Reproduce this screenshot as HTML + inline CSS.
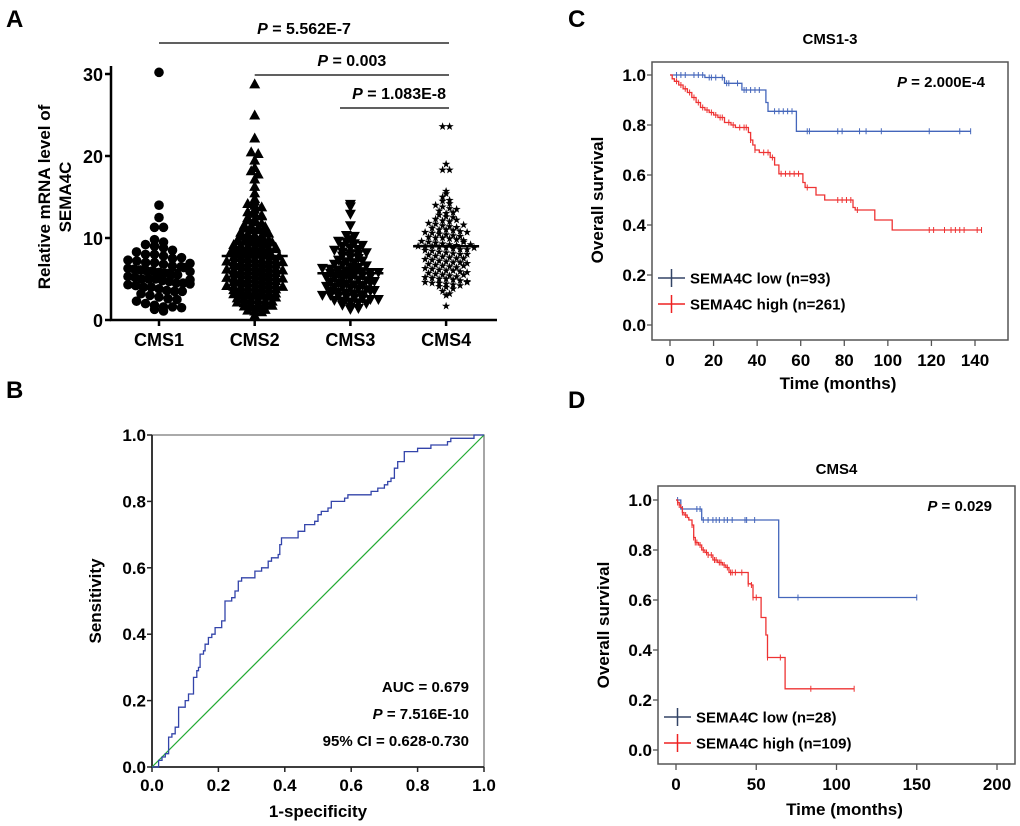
<!DOCTYPE html>
<html><head><meta charset="utf-8"><style>
html,body{margin:0;padding:0;background:#fff;}
svg{display:block;font-family:"Liberation Sans",Arial,sans-serif;font-weight:bold;}
</style></head><body>
<svg id="fig" width="1020" height="826" viewBox="0 0 1020 826" xmlns="http://www.w3.org/2000/svg">
<g font-size="24">
<text x="6" y="27">A</text>
<text x="6" y="398">B</text>
<text x="568" y="27">C</text>
<text x="568" y="408">D</text>
</g>
<g id="pa"></g>
<g id="pb"></g>
<g id="pc"></g>
<g id="pd"></g>
</svg>
<script>
// ---------- Panel A data ----------
const catsA = ["CMS1","CMS2","CMS3","CMS4"];
const mediansA = [6.1,7.8,5.7,9.0];
const cms1 = [30.2,14,12.5,11.3,11.3,9.8,9.5,9.2,9,8.8,8.5,8.3,8,8,7.8,7.5,7.3,7.2,7,7,6.8,6.6,6.5,6.3,6.2,6.1,6,6,5.8,5.7,5.5,5.5,5.3,5.2,5,5,5,4.8,4.7,4.5,4.5,4.3,4.2,4,4,3.8,3.6,3.5,3.5,3.2,3,2.8,2.6,2.5,2.3,2,1.8,1.6,1.6,1.5,1.3,1.1,6.4,6.9,7.6,5.9,4.9,4.4];
const cms2 = [28.8,25,22.2,20.5,20.3,19.5,18.6,18.2,17.8,17.2,16.3,15.5,14.8,14.5,14.2,14,13.8,13.5,13.2,13,12.8,12.5,12.3,12.2,12,11.8,11.6,11.5,11.3,11.2,11,11,10.8,10.7,10.5,10.4,10.3,10.2,10,10,9.9,9.8,9.7,9.6,9.5,9.4,9.3,9.2,9.1,9,9,8.9,8.8,8.7,8.6,8.5,8.5,8.4,8.3,8.2,8.1,8,8,8,7.9,7.8,7.8,7.7,7.6,7.5,7.5,7.4,7.3,7.2,7.1,7,7,7,6.9,6.8,6.8,6.7,6.6,6.5,6.5,6.4,6.3,6.2,6.1,6,6,6,5.9,5.8,5.8,5.7,5.6,5.5,5.5,5.4,5.3,5.2,5.1,5,5,5,4.9,4.8,4.8,4.7,4.6,4.5,4.5,4.4,4.3,4.2,4.1,4,4,4,3.9,3.8,3.8,3.7,3.6,3.5,3.5,3.4,3.3,3.2,3.1,3,3,3,2.9,2.8,2.7,2.6,2.5,2.5,2.4,2.3,2.2,2.1,2,2,1.9,1.8,1.7,1.6,1.5,1.3,1.2,1.1,1,0.6,9.5,8.7,7.3,6.3,5.3,4.3,3.3,10.6,11.4,12.7,8.9,7.1,6.1,5.1,4.1];
const cms3 = [14.1,13.8,12.9,11.5,10.3,10.2,9.8,9.6,9.5,9.3,9,8.8,8.6,8.5,8.3,8.1,8,7.8,7.6,7.5,7.3,7.1,7,6.8,6.7,6.5,6.4,6.3,6.2,6.1,6,6,5.9,5.8,5.7,5.6,5.5,5.5,5.4,5.3,5.2,5.1,5,5,4.9,4.8,4.7,4.6,4.5,4.4,4.3,4.2,4.1,4,4,3.9,3.8,3.7,3.6,3.5,3.4,3.3,3.2,3.1,3,3,2.9,2.8,2.7,2.6,2.5,2.4,2.3,2.2,2.1,2,1.8,1.6,1.4,1.3,6.6,5.8,4.5,3.5,2.5,7.2,8.2,9.1];
const cms4 = [23.6,23.6,19,18.3,18.3,15.7,15.4,15,14.6,14.5,14.2,14,13.8,13.6,13.5,13.3,13,12.8,12.6,12.5,12.3,12.1,12,11.8,11.7,11.5,11.4,11.3,11.2,11,11,10.9,10.8,10.7,10.6,10.5,10.4,10.3,10.2,10.1,10,10,9.9,9.8,9.7,9.6,9.5,9.4,9.3,9.2,9.1,9,9,9,8.9,8.8,8.7,8.6,8.5,8.4,8.3,8.2,8.1,8,8,7.9,7.8,7.7,7.6,7.5,7.4,7.3,7.2,7.1,7,7,6.9,6.8,6.7,6.6,6.5,6.4,6.3,6.2,6.1,6,6,5.9,5.8,5.7,5.6,5.5,5.4,5.3,5.2,5.1,5,5,4.9,4.8,4.7,4.6,4.5,4.5,4.4,4.3,4.2,4.1,4,3.8,3.5,3.2,3,1.7,12.2,11.6,10.7,9.5,8.6,7.5,6.6,5.5,4.6,13.1,9.2,8.8];
const groupsA = [cms1,cms2,cms3,cms4];
const yTicksA = [0,10,20,30];
const sigLabels = ["5.562E-7","0.003","1.083E-8"];
const sigPairs = [[0,3],[1,3],[2,3]];

// ---------- Panel B data ----------
const rocFpr = [0,0.02,0.03,0.04,0.05,0.06,0.07,0.08,0.1,0.11,0.12,0.125,0.135,0.14,0.145,0.155,0.16,0.17,0.18,0.19,0.21,0.22,0.24,0.25,0.26,0.27,0.3,0.31,0.33,0.35,0.36,0.38,0.385,0.39,0.42,0.44,0.46,0.49,0.5,0.51,0.53,0.54,0.55,0.58,0.59,0.61,0.66,0.68,0.7,0.71,0.72,0.73,0.74,0.76,0.8,0.83,0.84,0.88,0.89,0.9,0.97,1];
const rocTpr = [0,0.02,0.03,0.04,0.09,0.1,0.12,0.18,0.2,0.22,0.22,0.27,0.29,0.3,0.34,0.35,0.37,0.39,0.4,0.42,0.44,0.5,0.51,0.53,0.56,0.57,0.57,0.59,0.6,0.62,0.63,0.64,0.67,0.69,0.69,0.71,0.73,0.74,0.76,0.77,0.78,0.8,0.8,0.81,0.82,0.82,0.83,0.84,0.85,0.86,0.87,0.9,0.92,0.95,0.96,0.96,0.97,0.97,0.98,0.99,1,1];
const rocTicks = [0,0.2,0.4,0.6,0.8,1.0];

// ---------- Panel C data ----------
const cLowT = [0,16,25,33,44,45,58,138];
const cLowS = [1.0,0.99,0.967,0.94,0.89,0.855,0.775,0.775];
const cLowCens = [3,5,7,11,13,15,18,19,21,24,26,27,31,34,35,37,39,41,48,50,52,54,56,63,64,77,79,87,90,97,119,133,138];
const cHighT = [0,1,2,4,6,8,10,12,14,16,18,20,22,25,28,30,36,37,38,39,41,46,48,50,61,62,67,71,84,85,94,102,143];
const cHighS = [1.0,0.985,0.975,0.96,0.945,0.93,0.91,0.89,0.87,0.86,0.85,0.84,0.83,0.81,0.8,0.79,0.77,0.74,0.72,0.70,0.69,0.67,0.64,0.605,0.57,0.55,0.52,0.50,0.47,0.46,0.42,0.38,0.38];
const cHighCens = [3,5,7,9,11,13,15,17,19,21,23,24,27,29,32,34,35,37,39,43,45,47,51,53,55,57,59,63,77,79,81,83,86,119,121,126,129,131,133,135,141,143];
const cXTicks = [0,20,40,60,80,100,120,140];
const survTicks = [0,0.2,0.4,0.6,0.8,1.0];

// ---------- Panel D data ----------
const dLowT = [0,3,16,64,150];
const dLowS = [1.0,0.964,0.92,0.61,0.61];
const dLowCens = [1,4,13,15,17,20,23,25,27,30,32,35,43,44,49,76,150];
const dHighT = [0,1,2,3,4,5,7,8,10,11,12,14,16,18,20,23,26,29,31,33,45,47,48,53,56,57,68,111];
const dHighS = [1.0,0.99,0.98,0.97,0.95,0.94,0.93,0.92,0.9,0.85,0.83,0.82,0.8,0.79,0.78,0.76,0.75,0.74,0.73,0.71,0.665,0.66,0.61,0.53,0.46,0.37,0.245,0.245];
const dHighCens = [1,2,4,6,10,11,12,13,15,17,19,20,22,24,25,27,28,30,32,34,35,37,41,45,47,48,50,57,65,84,111];
const dXTicks = [0,50,100,150,200];

const NS="http://www.w3.org/2000/svg";
function el(parent,tag,attrs,text){const e=document.createElementNS(NS,tag);for(const k in attrs)e.setAttribute(k,attrs[k]);if(text!==undefined)e.textContent=text;parent.appendChild(e);return e;}

// ---------- Panel A ----------
(function(){
const g=document.getElementById('pa');
const x0=111,x1=497,y0=320,yTop=66;
const yS=v=>y0-(v/30)*(320-74);
const xC=i=>159+i*95.7;
const ax=el(g,'path',{d:`M${x0},${yTop}V${y0}H${x1}`,stroke:'#000','stroke-width':2.5,fill:'none'});

yTicksA.forEach(t=>{
 const tk=el(g,'line',{x1:x0-6,x2:x0,y1:yS(t),y2:yS(t),stroke:'#000','stroke-width':2.5});
 
 const lb=el(g,'text',{x:x0-8,y:yS(t)+7,'text-anchor':'end','font-size':18},String(t));
 
});
catsA.forEach((c,i)=>{
 const tk=el(g,'line',{x1:xC(i),x2:xC(i),y1:y0,y2:y0+6,stroke:'#000','stroke-width':2.5});
 
 const lb=el(g,'text',{x:xC(i),y:346,'text-anchor':'middle','font-size':18},c);
 
});
const yl=el(g,'text',{transform:'translate(50,197) rotate(-90)','text-anchor':'middle','font-size':17},'Relative mRNA level of');

const yl2=el(g,'text',{transform:'translate(71,197) rotate(-90)','text-anchor':'middle','font-size':17},'SEMA4C');

function marker(gg,i,x,y){
 let m;
 if(i===0) m=el(gg,'circle',{cx:x,cy:y,r:4.8,fill:'#000'});
 else if(i===1) m=el(gg,'polygon',{points:`${x},${y-5.5} ${x-5.5},${y+4.5} ${x+5.5},${y+4.5}`,fill:'#000'});
 else if(i===2) m=el(gg,'polygon',{points:`${x},${y+5.5} ${x-5.5},${y-4.5} ${x+5.5},${y-4.5}`,fill:'#000'});
 else {const p=[];for(let k=0;k<10;k++){const r=k%2?1.7:4.3;const a=-Math.PI/2+k*Math.PI/5;p.push((x+r*Math.cos(a)).toFixed(1)+','+(y+r*Math.sin(a)).toFixed(1));}m=el(gg,'polygon',{points:p.join(' '),fill:'#000'});}
 return m;
}
groupsA.forEach((vals,i)=>{
 const gg=el(g,'g',{});
 
 const bw=[1.0,0.5,0.55,0.55][i];
 const bins={};
 vals.forEach(v=>{const b=Math.round(v/bw);(bins[b]=bins[b]||[]).push(v);});
 Object.keys(bins).forEach(b=>{
  const arr=bins[b];const n=arr.length;
  let step=[9,7,8,7][i];
  if(n>1) step=Math.min(step,62/(n-1));
  arr.forEach((v,k)=>{
   const off=(k-(n-1)/2)*step;
   const m=marker(gg,i,xC(i)+off,yS(v));
   
  });
 });
 const ml=el(g,'line',{x1:xC(i)-33,x2:xC(i)+33,y1:yS(mediansA[i]),y2:yS(mediansA[i]),stroke:'#000','stroke-width':2.5});
 
});
const sigY=[43,75,108];
sigPairs.forEach((p,k)=>{
 const xa=p[0]===2?340:xC(p[0]),xb=449;
 const ln=el(g,'line',{x1:xa,x2:xb,y1:sigY[k],y2:sigY[k],stroke:'#000','stroke-width':1.3});
 
 const t=el(g,'text',{x:k===2?446:(xa+xb)/2,y:sigY[k]-9,'text-anchor':k===2?'end':'middle','font-size':16});
 
 el(t,'tspan',{'font-style':'italic'},'P');el(t,'tspan',{},' = '+sigLabels[k]);
});
})();

// ---------- Panel B ----------
(function(){
const g=document.getElementById('pb');
const L=152,R=484,T=435,B=767;
const xs=v=>L+v*(R-L), ys=v=>B-v*(B-T);
const fr=el(g,'path',{d:`M${L},${T}H${R}V${B}`,stroke:'#777','stroke-width':1.3,fill:'none'});

const ax=el(g,'path',{d:`M${L},${T}V${B}H${R}`,stroke:'#222','stroke-width':1.8,fill:'none'});

rocTicks.forEach(t=>{
 const a=el(g,'line',{x1:L-5,x2:L,y1:ys(t),y2:ys(t),stroke:'#222','stroke-width':1.5});
 const b=el(g,'text',{x:L-6,y:ys(t)+6,'text-anchor':'end','font-size':17},t.toFixed(1));
 const c=el(g,'line',{x1:xs(t),x2:xs(t),y1:B,y2:B+5,stroke:'#222','stroke-width':1.5});
 const d=el(g,'text',{x:xs(t),y:B+24,'text-anchor':'middle','font-size':17},t.toFixed(1));
});
const dg=el(g,'line',{x1:xs(0),y1:ys(0),x2:xs(1),y2:ys(1),stroke:'#22aa33','stroke-width':1.2});

let d='';rocFpr.forEach((f,i)=>{d+=(i?`H${xs(f).toFixed(1)}V${ys(rocTpr[i]).toFixed(1)}`:`M${xs(f)},${ys(rocTpr[i])}`);});
const rc=el(g,'path',{d:d,stroke:'#3344aa','stroke-width':1.3,fill:'none'});

const xt=el(g,'text',{x:(L+R)/2,y:817,'text-anchor':'middle','font-size':17},'1-specificity');
const yt=el(g,'text',{transform:`translate(101,${(T+B)/2}) rotate(-90)`,'text-anchor':'middle','font-size':17},'Sensitivity');
const a1=el(g,'text',{x:469,y:692,'text-anchor':'end','font-size':15},'AUC = 0.679');
const a2=el(g,'text',{x:469,y:719,'text-anchor':'end','font-size':15});
el(a2,'tspan',{'font-style':'italic'},'P');el(a2,'tspan',{},' = 7.516E-10');
const a3=el(g,'text',{x:469,y:746,'text-anchor':'end','font-size':15},'95% CI = 0.628-0.730');
})();

// ---------- KM helper ----------
function km(g,cfg){
 const {L,R,T,B,x0,xPer,y1,y0,xTicks,title,titleY,pText,pY,leg,legY,xtitleY,ytitleX}=cfg;
 const xs=v=>x0+v*xPer, ys=v=>y0-v*(y0-y1);
 const fr=el(g,'rect',{x:L,y:T,width:R-L,height:B-T,fill:'none',stroke:'#555','stroke-width':1.5});
 
 survTicks.forEach(t=>{
  const a=el(g,'line',{x1:L-5,x2:L,y1:ys(t),y2:ys(t),stroke:'#555','stroke-width':1.3});
  const b=el(g,'text',{x:L-6,y:ys(t)+6,'text-anchor':'end','font-size':17},t.toFixed(1));
 });
 xTicks.forEach(t=>{
  const a=el(g,'line',{x1:xs(t),x2:xs(t),y1:B,y2:B+6,stroke:'#555','stroke-width':1.3});
  const b=el(g,'text',{x:xs(t),y:B+26,'text-anchor':'middle','font-size':17},String(t));
 });
 const tt=el(g,'text',{x:(L+R)/2,y:titleY,'text-anchor':'middle','font-size':15},title);
 const pt=el(g,'text',{x:R-23,y:pY,'text-anchor':'end','font-size':15});
 el(pt,'tspan',{'font-style':'italic'},'P');el(pt,'tspan',{},' = '+pText);
 const xt=el(g,'text',{x:(L+R)/2+8,y:xtitleY,'text-anchor':'middle','font-size':17},'Time (months)');
 const yt=el(g,'text',{transform:`translate(${ytitleX},${(y1+y0)/2}) rotate(-90)`,'text-anchor':'middle','font-size':17},'Overall survival');
 function stepAt(Ts,Ss,t){let s=Ss[0];for(let i=0;i<Ts.length;i++){if(Ts[i]<=t)s=Ss[i];}return s;}
 cfg.series.forEach((s,si)=>{
  let d=`M${xs(s.T[0])},${ys(s.S[0])}`;
  for(let i=1;i<s.T.length;i++){d+=`H${xs(s.T[i]).toFixed(1)}V${ys(s.S[i]).toFixed(1)}`;}
  const p=el(g,'path',{d:d,stroke:s.col,'stroke-width':1.3,fill:'none'});
  
  s.C.forEach(c=>{const yy=ys(stepAt(s.T,s.S,c));
   const m=el(g,'line',{x1:xs(c),x2:xs(c),y1:yy-3,y2:yy+3,stroke:s.col,'stroke-width':1});
   });
  const ly=legY[si];
  const lg=el(g,'g',{});
  el(lg,'line',{x1:L+6,x2:L+33,y1:ly,y2:ly,stroke:s.lcol,'stroke-width':1.5});
  el(lg,'line',{x1:L+19.5,x2:L+19.5,y1:ly-9,y2:ly+9,stroke:s.lcol,'stroke-width':1.5});
  el(lg,'text',{x:L+38,y:ly+5.5,'font-size':15},leg[si]);
 });
}
km(document.getElementById('pc'),{L:652,R:1008,T:62,B:340,x0:670,xPer:(975-670)/140,y1:75,y0:325,xTicks:cXTicks,
 title:'CMS1-3',titleY:44,pText:'2.000E-4',pY:87,leg:['SEMA4C low (n=93)','SEMA4C high (n=261)'],legY:[278,304],xtitleY:389,ytitleX:603,
 series:[{T:cLowT,S:cLowS,C:cLowCens,col:'#4466bb',lcol:'#334466',name:'sema4c-low'},{T:cHighT,S:cHighS,C:cHighCens,col:'#ee3333',lcol:'#ee2222',name:'sema4c-high'}]});
km(document.getElementById('pd'),{L:658,R:1015,T:486,B:764,x0:676,xPer:(997-676)/200,y1:500,y0:750,xTicks:dXTicks,
 title:'CMS4',titleY:474,pText:'0.029',pY:511,leg:['SEMA4C low (n=28)','SEMA4C high (n=109)'],legY:[717,743],xtitleY:815,ytitleX:609,
 series:[{T:dLowT,S:dLowS,C:dLowCens,col:'#4466bb',lcol:'#334466',name:'sema4c-low'},{T:dHighT,S:dHighS,C:dHighCens,col:'#ee3333',lcol:'#ee2222',name:'sema4c-high'}]});
</script>
</body></html>
